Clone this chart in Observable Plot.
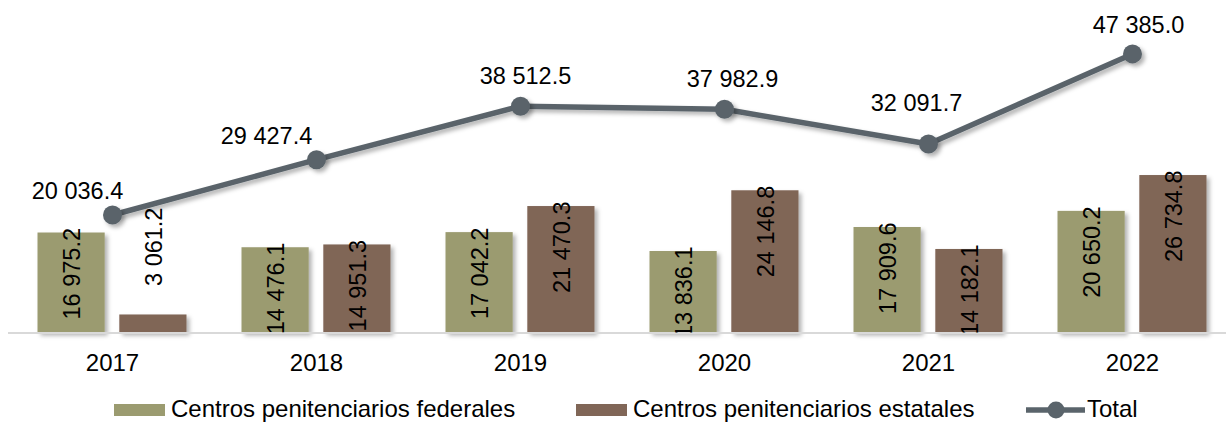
<!DOCTYPE html>
<html>
<head>
<meta charset="utf-8">
<script src="https://cdn.jsdelivr.net/npm/d3@7"></script>
<script src="https://cdn.jsdelivr.net/npm/@observablehq/plot@0.6"></script>
<style>
  html, body { margin: 0; padding: 0; background: #fff; }
  #wrap { position: relative; width: 1226px; height: 423px; overflow: hidden; font-family: "Liberation Sans", Arial, sans-serif; }
  #wrap svg { display: block; }
  .lg { position: absolute; font-size: 24px; line-height: 24px; color: #000; white-space: nowrap; }
  .sw { position: absolute; height: 12.5px; width: 51px; }
</style>
</head>
<body>
<div id="wrap"></div>
<script>
// ---- data ----
const years = ["2017", "2018", "2019", "2020", "2021", "2022"];
const federales = [16975.2, 14476.1, 17042.2, 13836.1, 17909.6, 20650.2];
const estatales = [3061.2, 14951.3, 21470.3, 24146.8, 14182.1, 26734.8];
const total = [20036.4, 29427.4, 38512.5, 37982.9, 32091.7, 47385.0];
const seriesNames = ["Centros penitenciarios federales", "Centros penitenciarios estatales", "Total"];

// ---- style config (label offsets, colours) ----
const colors = { fed: "#9b9b70", est: "#806657", total: "#5a646b", axis: "#d9d9d9" };
const totalLabelDx = [-35, -50, 5, 8, -12, 6];
const totalLabelDy = [-24, -23, -30, -30, -41, -28];

const rows = years.map((y, i) => ({ year: y, fed: federales[i], est: estatales[i], total: total[i], i }));
const loc = d3.formatLocale({ decimal: ".", thousands: " ", grouping: [3] });
const fmt = loc.format(",.1f");

const FS = 23.5;
const chart = Plot.plot({
  width: 1226,
  height: 390,
  marginLeft: 8,
  marginRight: 0,
  marginTop: 38,
  marginBottom: 57.5,
  style: { fontFamily: "Liberation Sans, Arial, sans-serif", fontSize: FS + "px", color: "#000", background: "#fff" },
  x: { type: "band", domain: years, range: [7.5, 1236.5], padding: 0, label: null },
  y: { domain: [0, 50000], axis: null },
  marks: [
    Plot.barY(rows, { x: "year", y: "fed", fill: colors.fed, insetLeft: 27.5, insetRight: 109.3 }),
    Plot.barY(rows, { x: "year", y: "est", fill: colors.est, insetLeft: 109.3, insetRight: 27.5 }),
    Plot.ruleY([0], { stroke: colors.axis, strokeWidth: 2 }),
    Plot.axisX({ tickSize: 0, tickPadding: 20.5, fontSize: 24 }),
    // bar labels (inside end, clipped by plot frame)
    Plot.text(rows.filter(d => d.fed >= 5000), { x: "year", y: "fed", text: d => fmt(d.fed), rotate: -90, textAnchor: "end", dx: -40, dy: -5, fontSize: FS, fill: "#000", clip: "frame" }),
    Plot.text(rows.filter(d => d.est >= 5000), { x: "year", y: "est", text: d => fmt(d.est), rotate: -90, textAnchor: "end", dx: 42, dy: -5, fontSize: FS, fill: "#000", clip: "frame" }),
    Plot.text(rows.filter(d => d.est < 5000), { x: "year", y: "est", text: d => fmt(d.est), rotate: -90, textAnchor: "start", dx: 42, dy: -29, fontSize: FS, fill: "#000" }),
    Plot.text(rows.filter(d => d.fed < 5000), { x: "year", y: "fed", text: d => fmt(d.fed), rotate: -90, textAnchor: "start", dx: -40, dy: -29, fontSize: FS, fill: "#000" }),
    // total line
    Plot.line(rows, { x: "year", y: "total", stroke: colors.total, strokeWidth: 5.5 }),
    Plot.dot(rows, { x: "year", y: "total", r: 9.5, fill: colors.total, stroke: "none" })
  ].concat(rows.map((d, i) =>
    Plot.text([d], { x: "year", y: "total", text: r => fmt(r.total), dx: totalLabelDx[i], dy: totalLabelDy[i], fontSize: FS, fill: "#000", lineAnchor: "middle" })
  ))
});

// drop shadows
const svg = d3.select(chart);
const defs = svg.insert("defs", ":first-child");
const f = defs.append("filter").attr("id", "shadow").attr("x", "-20%").attr("y", "-20%").attr("width", "140%").attr("height", "140%");
f.append("feDropShadow").attr("dx", 3).attr("dy", 3).attr("stdDeviation", 2).attr("flood-color", "#000").attr("flood-opacity", 0.3);
svg.selectAll("g[aria-label='bar'], g[aria-label='line'], g[aria-label='dot']").attr("filter", "url(#shadow)");

const wrap = document.getElementById("wrap");
wrap.appendChild(chart);

// legend (below svg)
function addSwatch(left, color) {
  const s = document.createElement("div");
  s.className = "sw";
  s.style.left = left + "px";
  s.style.top = "403.5px";
  s.style.background = color;
  wrap.appendChild(s);
}
function addLabel(left, text) {
  const t = document.createElement("div");
  t.className = "lg";
  t.style.left = left + "px";
  t.style.top = "396.5px";
  t.textContent = text;
  wrap.appendChild(t);
}
addSwatch(114, colors.fed);
addLabel(171, seriesNames[0]);
addSwatch(576, colors.est);
addLabel(633, seriesNames[1]);
// total line icon
const ic = document.createElementNS("http://www.w3.org/2000/svg", "svg");
ic.setAttribute("width", "62");
ic.setAttribute("height", "24");
ic.style.position = "absolute";
ic.style.left = "1025px";
ic.style.top = "398px";
d3.select(ic).append("line").attr("x1", 1).attr("x2", 60).attr("y1", 12).attr("y2", 12).attr("stroke", colors.total).attr("stroke-width", 5.5);
d3.select(ic).append("circle").attr("cx", 31).attr("cy", 12).attr("r", 8.5).attr("fill", colors.total);
wrap.appendChild(ic);
addLabel(1087, seriesNames[2]);
</script>
</body>
</html>
